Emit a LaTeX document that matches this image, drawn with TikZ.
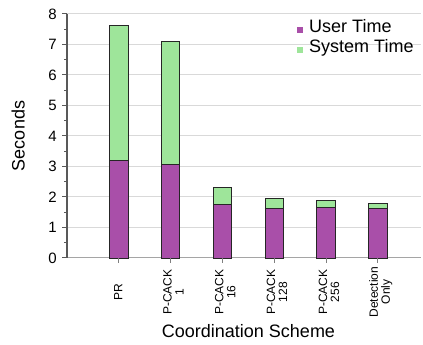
\documentclass[tikz,border=0pt]{standalone}
\usepackage{fontspec}
\setmainfont{Liberation Sans}
\definecolor{usercol}{HTML}{A94FA9}
\definecolor{syscol}{HTML}{9EE59A}
\definecolor{gridcol}{HTML}{D9D9D9}
\definecolor{axiscol}{HTML}{7F7F7F}
\tikzset{
  barline/.style={draw=black!85, line width=0.9pt},
  ticklab/.style={font=\fontsize{15}{17}\selectfont, inner sep=0pt, anchor=east},
  catlab/.style={font=\fontsize{12}{12}\selectfont, rotate=90, align=center, inner sep=0pt},
  titlelab/.style={font=\fontsize{18}{20}\selectfont, inner sep=0pt},
  leglab/.style={font=\fontsize{18}{20}\selectfont, inner sep=0pt, anchor=base west},
}
\begin{document}
\begin{tikzpicture}[x=1pt,y=1pt]
\useasboundingbox (0,0) rectangle (423,345);
\begin{scope}[shift={(67pt,87pt)}, y=30.5pt]
  % grid
  \foreach \v in {1,...,8} \draw[gridcol, line width=1pt] (0,\v) -- (354,\v);
  % x axis
  \draw[axiscol!70, line width=1pt] (0,0) -- (354,0);
  % bars
  \foreach \k/\u/\t in {1/3.19/7.62, 2/3.07/7.1, 3/1.74/2.3, 4/1.64/1.95, 5/1.66/1.9, 6/1.64/1.8}{
    \fill[usercol] ({51.8*\k-9.25},0) rectangle ({51.8*\k+9.25},\u);
    \fill[syscol] ({51.8*\k-9.25},\u) rectangle ({51.8*\k+9.25},\t);
    \draw[barline] ({51.8*\k-9.25},0) rectangle ({51.8*\k+9.25},\t);
    \draw[barline] ({51.8*\k-9.25},\u) -- ({51.8*\k+9.25},\u);
    \draw[axiscol, line width=0.9pt] ({51.8*\k},0) -- ({51.8*\k},-0.15);
  }
  % y axis
  \draw[black!65, line width=1.1pt] (0,0) -- (0,8);
  \foreach \v in {0,...,8}{
    \draw[black!65, line width=1pt] (-5,\v) -- (0,\v);
    \node[ticklab] (yl\v) at (-10,\v) {\v};
  }
  \foreach \v in {0,...,7} \draw[black!65, line width=0.8pt] (-3,\v+0.5) -- (0,\v+0.5);
\end{scope}
% category labels
\node[catlab] (c1) at (118.3,53) {PR};
\node[catlab] (c2) at (173.5,53) {P-CACK\\1};
\node[catlab] (c3) at (225.3,53) {P-CACK\\16};
\node[catlab] (c4) at (277.1,53) {P-CACK\\128};
\node[catlab] (c5) at (328.9,53) {P-CACK\\256};
\node[catlab] (c6) at (380.7,53) {Detection\\Only};
% titles
\node[titlelab, rotate=90] (ytitle) at (18.3,209) {Seconds};
\node[titlelab, anchor=base] (xtitle) at (248.5,7.7) {Coordination Scheme};
% legend
\fill[usercol] (296.7,312.3) rectangle (303.3,318.3);
\fill[syscol] (296.7,292.3) rectangle (303.3,298.3);
\node[leglab] (lu) at (309,312.3) {User Time};
\node[leglab] (ls) at (309,292.3) {System Time};
\end{tikzpicture}
\end{document}
